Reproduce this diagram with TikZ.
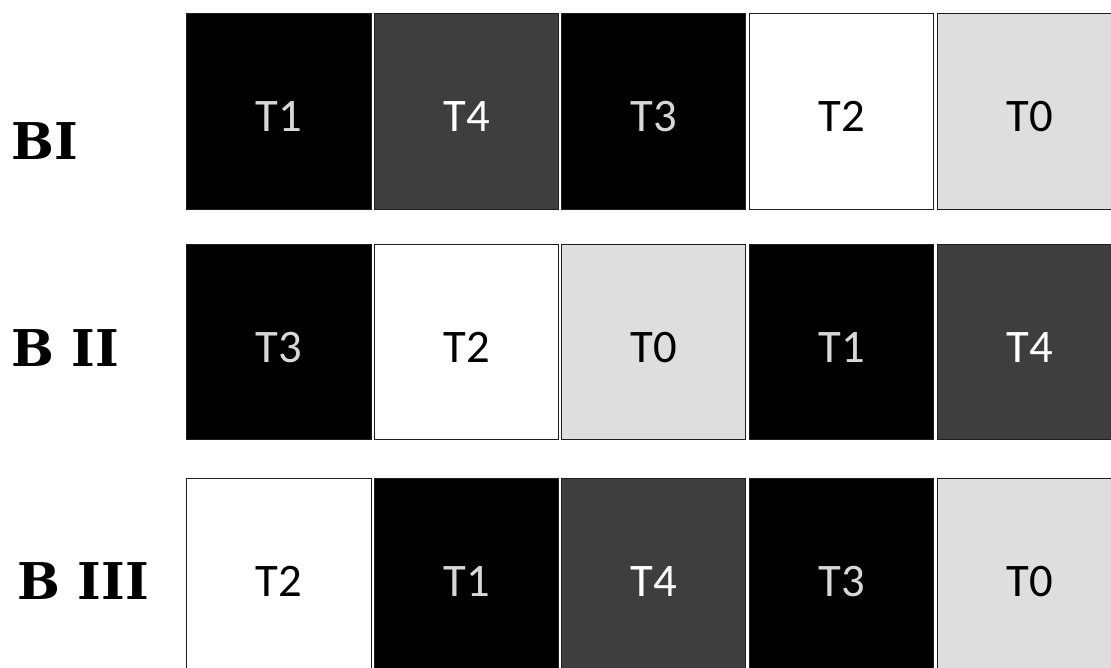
\documentclass[tikz,border=0pt]{standalone}
\usepackage{fontspec}
\usepackage{tikz}
\newfontfamily\blockfont{DejaVu Serif}
\newfontfamily\treatfont{Carlito}

\begin{document}
\begin{tikzpicture}[x=0.75pt,y=0.75pt,yscale=-1,xscale=1,
  plot/.style={draw={rgb, 255:red, 30; green, 30; blue, 30 }, line width=0.75, minimum width=138.5pt, minimum height=146.5pt, inner sep=0pt, text height=30pt, text depth=0pt, font=\treatfont\fontsize{35}{35}\selectfont},
  tzero/.style={plot, fill={rgb, 255:red, 222; green, 222; blue, 222 }, text=black},
  tone/.style={plot, fill=black, text={rgb, 255:red, 215; green, 215; blue, 215 }},
  ttwo/.style={plot, fill=white, text=black},
  tthree/.style={plot, fill=black, text={rgb, 255:red, 215; green, 215; blue, 215 }},
  tfour/.style={plot, fill={rgb, 255:red, 62; green, 62; blue, 62 }, text=white},
  block/.style={anchor=west, inner sep=0pt, font=\blockfont\bfseries\fontsize{38}{38}\selectfont}]
\useasboundingbox (0,0) rectangle (1111,668);
\clip (0,0) rectangle (1111,668);
%set diagram left start at 0, and has height of 668
% Block labels
\node (lblI) [block] at (11,141) {BI};
\node (lblII) [block] at (11,348) {B II};
\node (lblIII) [block] at (17,581) {B III};
%Block I
\node (aI) [tone] at (279,111.5) {T1};
\node (bI) [tfour] at (466.5,111.5) {T4};
\node (cI) [tthree] at (653.5,111.5) {T3};
\node (dI) [ttwo] at (841.5,111.5) {T2};
\node (eI) [tzero] at (1030,111.5) {T0};
%Block II
\node (aII) [tthree] at (279,342) {T3};
\node (bII) [ttwo] at (466.5,342) {T2};
\node (cII) [tzero] at (653.5,342) {T0};
\node (dII) [tone] at (841.5,342) {T1};
\node (eII) [tfour] at (1030,342) {T4};
%Block III
\node (aIII) [ttwo] at (279,576.5) {T2};
\node (bIII) [tone] at (466.5,576.5) {T1};
\node (cIII) [tfour] at (653.5,576.5) {T4};
\node (dIII) [tthree] at (841.5,576.5) {T3};
\node (eIII) [tzero] at (1030,576.5) {T0};
\end{tikzpicture}
\end{document}
